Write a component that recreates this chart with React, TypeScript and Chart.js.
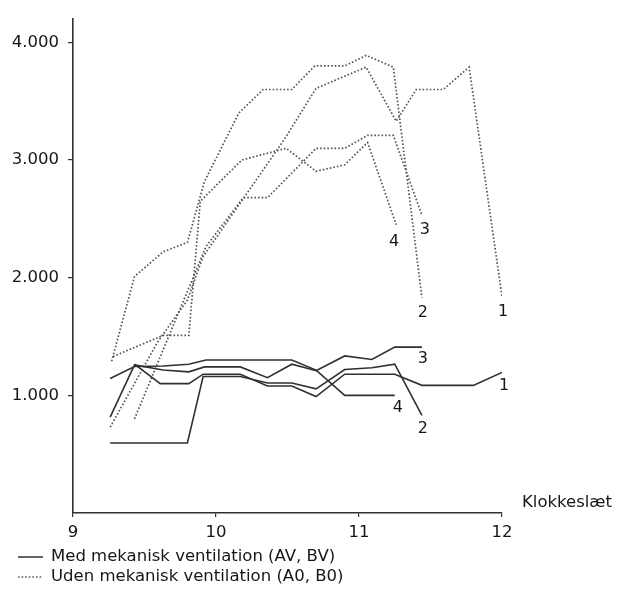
import React, { useEffect, useRef } from "react";
import { Chart, registerables } from "chart.js";

Chart.register(...registerables);

// ---- data ----
const xTickValues = [9, 10, 11, 12];
const yTickValues = [1000, 2000, 3000, 4000];
const yTickLabels = ["1.000", "2.000", "3.000", "4.000"];
const xAxisTitle = "Klokkeslæt";
const legendLabels = [
  "Med mekanisk ventilation (AV, BV)",
  "Uden mekanisk ventilation (A0, B0)",
];
const seriesNumbers = ["1", "2", "3", "4"];

// Med mekanisk ventilation (solid)
const medTime1 = [9.43, 9.61, 9.81, 9.91, 10.17, 10.36, 10.53, 10.7, 10.9, 11.25, 11.44, 11.8, 12.0];
const medCo2_1 = [1265, 1100, 1100, 1180, 1180, 1080, 1080, 990, 1180, 1180, 1085, 1085, 1195];
const medTime2 = [9.26, 9.8, 9.91, 10.17, 10.36, 10.53, 10.7, 10.9, 11.09, 11.25, 11.44];
const medCo2_2 = [595, 595, 1160, 1160, 1105, 1105, 1055, 1220, 1235, 1265, 830];
const medTime3 = [9.26, 9.43, 9.63, 9.81, 9.92, 10.17, 10.36, 10.53, 10.7, 10.9, 11.09, 11.25, 11.44];
const medCo2_3 = [815, 1258, 1215, 1200, 1242, 1242, 1150, 1265, 1210, 1335, 1305, 1410, 1410];
const medTime4 = [9.26, 9.43, 9.63, 9.81, 9.93, 10.17, 10.53, 10.7, 10.9, 11.25];
const medCo2_4 = [1144, 1245, 1250, 1265, 1300, 1300, 1300, 1215, 1000, 1000];

// Uden mekanisk ventilation (dotted)
const udenTime1 = [9.26, 9.59, 9.8, 9.91, 10.48, 10.7, 11.05, 11.26, 11.4, 11.59, 11.77, 12.0];
const udenCo2_1 = [730, 1450, 1810, 2180, 3180, 3610, 3790, 3330, 3600, 3600, 3790, 1840];
const udenTime2 = [9.27, 9.43, 9.63, 9.8, 9.92, 10.16, 10.33, 10.53, 10.69, 10.9, 11.05, 11.24, 11.44];
const udenCo2_2 = [1290, 2010, 2220, 2300, 2820, 3400, 3600, 3600, 3800, 3800, 3890, 3790, 1830];
const udenTime3 = [9.43, 9.93, 10.19, 10.36, 10.7, 10.9, 11.06, 11.24, 11.44];
const udenCo2_3 = [800, 2265, 2680, 2680, 3100, 3100, 3210, 3210, 2530];
const udenTime4 = [9.28, 9.63, 9.81, 9.89, 10.18, 10.49, 10.7, 10.9, 11.06, 11.26];
const udenCo2_4 = [1330, 1510, 1510, 2650, 3000, 3100, 2905, 2960, 3150, 2450];

// ---- styling ----
const FONT = "'DejaVu Sans', 'Liberation Sans', Arial, sans-serif";
const INK = "#161616";
const SOLID_COLOR = "#303030";
const DOT_COLOR = "#555555";
const DOT_DASH = [1.6, 2.0];

const toPoints = (t: number[], v: number[]) => t.map((x, i) => ({ x, y: v[i] }));

// label offsets (px) relative to last point of each series
const solidLabelOffsets = [
  [2, 13],
  [1, 13],
  [1, 12],
  [3, 12],
];
const dottedLabelOffsets = [
  [1, 15],
  [1, 15],
  [3, 14],
  [-2, 17],
];

export default function App() {
  const ref = useRef<HTMLCanvasElement | null>(null);

  useEffect(() => {
    if (!ref.current) return;

    const solidSets = [
      [medTime1, medCo2_1],
      [medTime2, medCo2_2],
      [medTime3, medCo2_3],
      [medTime4, medCo2_4],
    ].map(([t, v], i) => ({
      label: legendLabels[0] + " " + seriesNumbers[i],
      data: toPoints(t, v),
      borderColor: SOLID_COLOR,
      borderWidth: 1.6,
      pointRadius: 0,
      tension: 0,
      fill: false,
    }));

    const dottedSets = [
      [udenTime1, udenCo2_1],
      [udenTime2, udenCo2_2],
      [udenTime3, udenCo2_3],
      [udenTime4, udenCo2_4],
    ].map(([t, v], i) => ({
      label: legendLabels[1] + " " + seriesNumbers[i],
      data: toPoints(t, v),
      borderColor: DOT_COLOR,
      borderWidth: 1.7,
      borderDash: DOT_DASH,
      borderCapStyle: "butt" as const,
      pointRadius: 0,
      tension: 0,
      fill: false,
    }));

    const overlay = {
      id: "overlay",
      afterDraw(chart: any) {
        const ctx = chart.ctx as CanvasRenderingContext2D;
        const area = chart.chartArea;
        ctx.save();
        ctx.fillStyle = INK;
        ctx.font = `16px ${FONT}`;
        ctx.textAlign = "center";
        ctx.textBaseline = "middle";
        // series number labels at line ends
        chart.data.datasets.forEach((ds: any, i: number) => {
          const meta = chart.getDatasetMeta(i);
          const pts = meta.data;
          const last = pts[pts.length - 1];
          const k = i % 4;
          const off = i < 4 ? solidLabelOffsets[k] : dottedLabelOffsets[k];
          ctx.fillText(seriesNumbers[k], last.x + off[0], last.y + off[1]);
        });
        // axis title
        ctx.font = `16.5px ${FONT}`;
        ctx.textAlign = "left";
        ctx.fillText(xAxisTitle, area.right + 20, area.bottom - 10);
        // legend
        const rows = [557, 577];
        legendLabels.forEach((txt, i) => {
          const y = rows[i];
          ctx.beginPath();
          ctx.lineWidth = 1.5;
          ctx.strokeStyle = i === 0 ? SOLID_COLOR : DOT_COLOR;
          ctx.setLineDash(i === 0 ? [] : DOT_DASH);
          ctx.moveTo(18, y);
          ctx.lineTo(43, y);
          ctx.stroke();
          ctx.setLineDash([]);
          ctx.fillStyle = INK;
          ctx.fillText(txt, 51, y);
        });
        ctx.restore();
      },
    };

    const chart = new Chart(ref.current, {
      type: "line",
      data: { datasets: [...solidSets, ...dottedSets] as any },
      options: {
        responsive: false,
        animation: false,
        devicePixelRatio: 1,
        layout: { padding: { left: 0, right: 118, top: 10, bottom: 0 } },
        plugins: { legend: { display: false }, tooltip: { enabled: false } },
        scales: {
          x: {
            type: "linear",
            min: 9,
            max: 12,
            afterBuildTicks: (s: any) => {
              s.ticks = xTickValues.map((value) => ({ value }));
            },
            afterFit: (s: any) => {
              s.height = 80;
            },
            grid: {
              display: true,
              drawOnChartArea: false,
              drawTicks: true,
              tickLength: 4,
              color: SOLID_COLOR,
              lineWidth: 1.2,
            },
            border: { display: true, color: SOLID_COLOR, width: 1.6 },
            ticks: {
              color: INK,
              font: { family: FONT, size: 16.5 },
              padding: 6,
              maxRotation: 0,
              autoSkip: false,
              callback: (v: any) => String(v),
            },
          },
          y: {
            type: "linear",
            min: 0,
            max: 4200,
            afterBuildTicks: (s: any) => {
              s.ticks = yTickValues.map((value) => ({ value }));
            },
            afterFit: (s: any) => {
              s.width = 73;
            },
            grid: {
              display: true,
              drawOnChartArea: false,
              drawTicks: true,
              tickLength: 5,
              color: SOLID_COLOR,
              lineWidth: 1.2,
            },
            border: { display: true, color: SOLID_COLOR, width: 1.6 },
            ticks: {
              color: INK,
              font: { family: FONT, size: 16.5 },
              padding: 9,
              autoSkip: false,
              callback: (v: any) => {
                const i = yTickValues.indexOf(Number(v));
                return i >= 0 ? yTickLabels[i] : "";
              },
            },
          },
        },
      },
      plugins: [overlay],
    });

    return () => chart.destroy();
  }, []);

  return (
    <div style={{ position: "absolute", left: 0, top: 0, width: 620, height: 593, background: "#fff" }}>
      <canvas ref={ref} width={620} height={593} style={{ display: "block", width: 620, height: 593 }} />
    </div>
  );
}
